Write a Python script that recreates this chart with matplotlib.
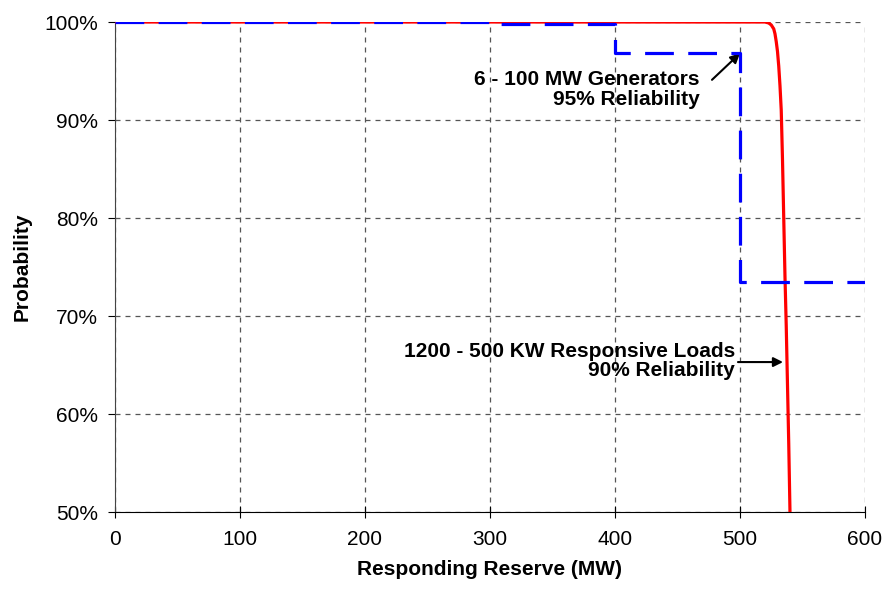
import matplotlib
matplotlib.use("Agg")
import matplotlib.pyplot as plt
from matplotlib.ticker import FuncFormatter

# blue dashed step: 6 x 100 MW generators, 95% reliability
gen_mw = [0, 300, 400, 500, 600]
gen_prob = [100.0, 99.8, 96.8, 73.5, 73.5]

# red curve: 1200 x 500 kW responsive loads, 90% reliability
load_mw = [0, 520, 523, 525, 527, 528, 529, 530, 531, 532, 533, 534, 535, 536, 537, 538, 539, 540]
load_prob = [100.0, 100.0, 99.9, 99.7, 99.3, 98.8, 98.0, 97.0, 95.5, 93.5, 91.0, 86.0, 80.0,
             74.0, 69.0, 63.0, 57.0, 50.0]

x_ticks = [0, 100, 200, 300, 400, 500, 600]
y_ticks = [50, 60, 70, 80, 90, 100]

plt.rcParams["font.family"] = ["Liberation Sans", "DejaVu Sans"]

fig = plt.figure(figsize=(8.84, 5.9), dpi=100)
ax = fig.add_axes([0.130, 0.1322, 0.8485, 0.8305])

ax.plot(load_mw, load_prob, color="#ff0000", lw=2.3, solid_capstyle="butt", zorder=3)
ax.plot(gen_mw, gen_prob, color="#0000ff", lw=2.3, drawstyle="steps-post",
        dashes=(9, 4.5), zorder=4)

ax.set_xlim(0, 600)
ax.set_ylim(50, 100)
ax.set_xticks(x_ticks)
ax.set_yticks(y_ticks)
ax.yaxis.set_major_formatter(FuncFormatter(lambda v, p: f"{v:.0f}%"))
ax.tick_params(axis="x", direction="inout", length=8, labelsize=15, pad=9)
ax.tick_params(axis="y", direction="out", length=5, labelsize=15, pad=7)

ax.grid(True, color="#555555", linestyle=(0, (4, 4)), linewidth=0.9)
ax.set_axisbelow(True)
ax.spines["top"].set_visible(False)
ax.spines["right"].set_visible(False)
ax.spines["left"].set_color("#444444")

ax.set_xlabel("Responding Reserve (MW)", fontsize=15, fontweight="bold", labelpad=8)
ax.set_ylabel("Probability", fontsize=15, fontweight="bold", labelpad=9)

# annotations
ax.text(468, 93.1, "6 - 100 MW Generators\n95% Reliability", ha="right", va="center",
        multialignment="right", fontsize=15, fontweight="bold", linespacing=1.05)
ax.annotate("", xy=(500, 96.8), xytext=(477.6, 94.1),
            arrowprops=dict(arrowstyle="-|>", color="black", lw=1.5, mutation_scale=14,
                            shrinkA=0, shrinkB=0))

ax.text(496, 65.4, "1200 - 500 KW Responsive Loads\n90% Reliability", ha="right",
        va="center", multialignment="right", fontsize=15, fontweight="bold", linespacing=1.05)
ax.annotate("", xy=(534.4, 65.3), xytext=(498.4, 65.3),
            arrowprops=dict(arrowstyle="-|>", color="black", lw=1.5, mutation_scale=14,
                            shrinkA=0, shrinkB=0))

fig.savefig("out.png", dpi=100)
